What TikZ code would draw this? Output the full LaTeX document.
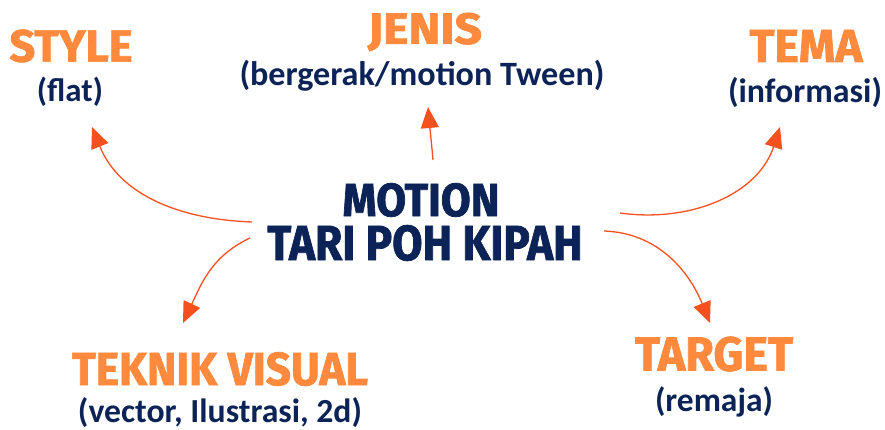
\documentclass[tikz,border=0pt]{standalone}
\usepackage{fontspec}
\usepackage{graphicx}
\setmainfont{Carlito}
\newfontfamily\headfont{Fira Sans}[BoldFeatures={FakeBold=1.6}]
\usetikzlibrary{arrows.meta}
\definecolor{headorange}{HTML}{FF8A3D}
\definecolor{navy}{HTML}{0C2357}
\definecolor{arroworange}{HTML}{F4511E}
\newcommand{\hd}[3]{\resizebox{#1pt}{#2pt}{\headfont\bfseries #3}}
\newcommand{\subt}[2]{\resizebox{#1pt}{!}{\bfseries #2}}
\begin{document}
\begin{tikzpicture}[x=1pt,y=1pt,
  heading/.style={inner sep=0pt, text=headorange},
  centre/.style={inner sep=0pt, text=navy},
  subtitle/.style={inner sep=0pt, text=navy},
  link/.style={draw=arroworange, line width=1.3pt, -{Triangle[length=21pt,width=18pt]}}]
\useasboundingbox (0,0) rectangle (885,430);
% headings
\node[heading] (style) at (71,384) {\hd{123}{32}{STYLE}};
\node[subtitle] (flat) at (70,338) {\subt{66}{(flat)}};
\node[heading] (jenis) at (425,398) {\hd{114}{31}{JENIS}};
\node[subtitle] (gerak) at (422,354) {\subt{365}{(bergerak/motion Tween)}};
\node[heading] (tema) at (806,384) {\hd{113}{32}{TEMA}};
\node[subtitle] (info) at (805,338) {\subt{154}{(informasi)}};
\node[centre] (motion) at (421,230) {\hd{157}{33}{MOTION}};
\node[centre] (tari) at (425,187) {\hd{315}{35}{TARI POH KIPAH}};
\node[heading] (teknik) at (220,61) {\hd{296}{33}{TEKNIK VISUAL}};
\node[subtitle] (vector) at (220,17) {\subt{284}{(vector, Ilustrasi, 2d)}};
\node[heading] (target) at (714,76) {\hd{158}{34}{TARGET}};
\node[subtitle] (remaja) at (714,28) {\subt{118}{(remaja)}};
% arrow ends
\coordinate (t1) at (252,208); \coordinate (h1) at (92,303);
\coordinate (t2) at (433,270); \coordinate (h2) at (428,323);
\coordinate (t3) at (620,217); \coordinate (h3) at (780,303);
\coordinate (t4) at (250,192); \coordinate (h4) at (183,107);
\coordinate (t5) at (604,199); \coordinate (h5) at (710,107);
\draw[link] (t1) to[out=178,in=-68] (h1);
\draw[link] (t2) to[out=95,in=-85] (h2);
\draw[link] (t3) to[out=-8,in=-108] (h3);
\draw[link] (t4) to[out=205,in=65] (h4);
\draw[link] (t5) to[out=-2,in=112] (h5);
\end{tikzpicture}
\end{document}
